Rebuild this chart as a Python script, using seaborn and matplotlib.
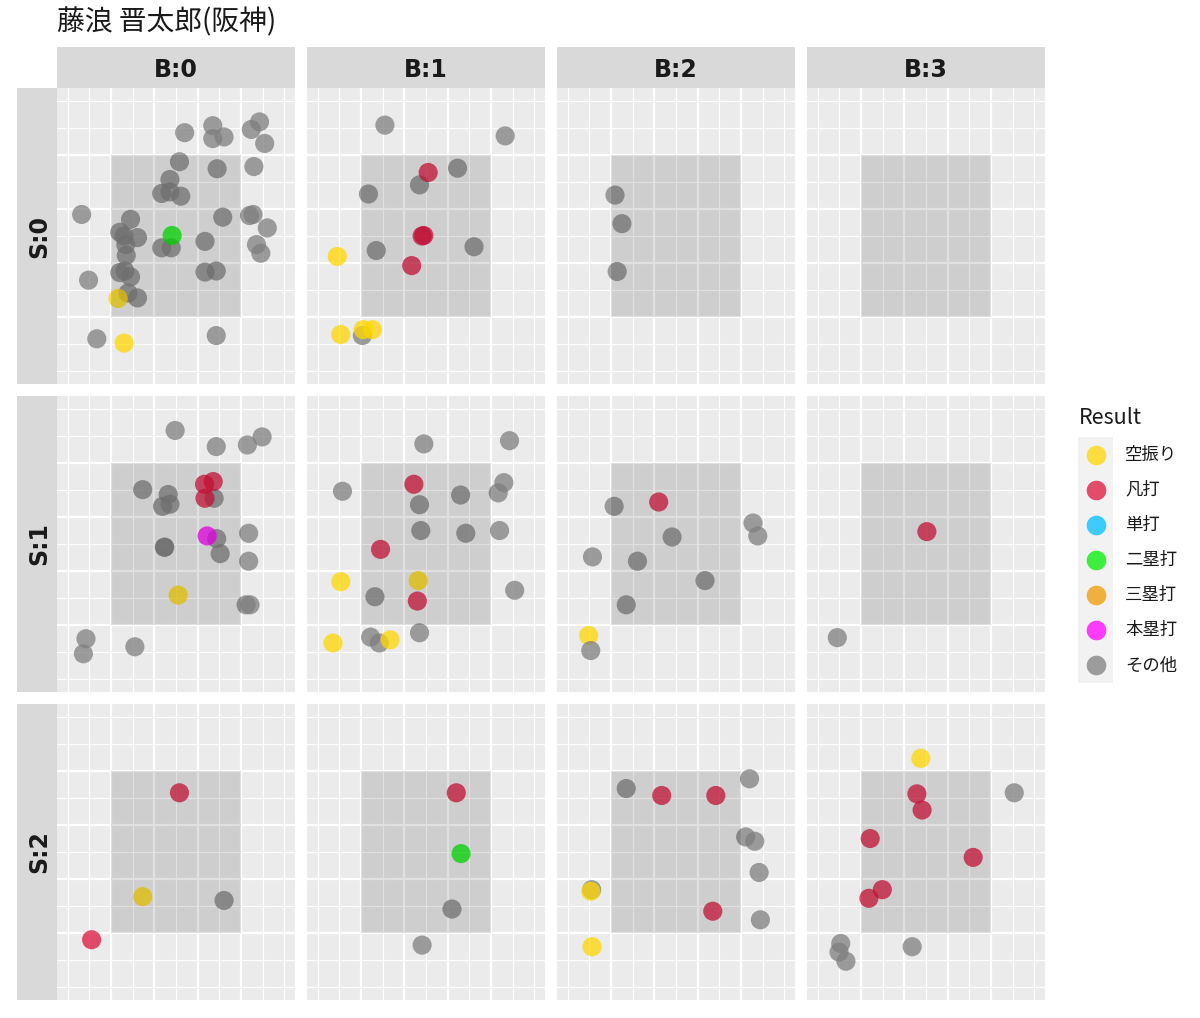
import matplotlib
matplotlib.use("Agg")
import matplotlib.pyplot as plt
from matplotlib.patches import Rectangle
import pandas as pd
import seaborn as sns

plt.rcParams["font.family"] = ["Noto Sans CJK JP", "DejaVu Sans"]

title = "藤浪 晋太郎(阪神)"
ball_labels = ["B:0", "B:1", "B:2", "B:3"]
strike_labels = ["S:0", "S:1", "S:2"]

SW, OUT, H1, H2, H3, HR, OT = "空振り", "凡打", "単打", "二塁打", "三塁打", "本塁打", "その他"
result_order = [SW, OUT, H1, H2, H3, HR, OT]
result_colors = ["#FFD700", "#DC143C", "#00BFFF", "#00EE00", "#EE9A00", "#FF00FF", "#7F7F7F"]

# strike zone in grid units (3x3 cells)
zone_x = (1, 4)
zone_y = (1, 4)

# (x, z, result) per count
s0_b0 = [
    (2.70, 4.42, OT), (3.35, 4.55, OT), (3.35, 4.31, OT), (3.61, 4.34, OT), (4.24, 4.48, OT),
    (4.43, 4.62, OT), (4.55, 4.22, OT), (2.58, 3.88, OT), (3.45, 3.75, OT), (4.30, 3.79, OT),
    (2.36, 3.55, OT), (2.17, 3.29, OT), (2.36, 3.32, OT), (2.61, 3.24, OT), (0.32, 2.90, OT),
    (1.45, 2.81, OT), (3.58, 2.85, OT), (4.20, 2.88, OT), (4.28, 2.90, OT), (4.61, 2.65, OT),
    (1.20, 2.57, OT), (1.30, 2.50, OT), (1.61, 2.47, OT), (1.34, 2.34, OT), (2.17, 2.28, OT),
    (2.39, 2.28, OT), (3.17, 2.40, OT), (4.36, 2.34, OT), (4.46, 2.18, OT), (1.35, 2.14, OT),
    (0.48, 1.68, OT), (1.20, 1.82, OT), (1.32, 1.85, OT), (1.45, 1.74, OT), (3.17, 1.83, OT),
    (3.43, 1.85, OT), (1.39, 1.44, OT), (1.61, 1.35, OT), (0.67, 0.59, OT), (3.43, 0.65, OT),
    (2.41, 2.51, H2), (1.16, 1.34, SW), (1.30, 0.51, SW),
]
s0_b1 = [
    (1.55, 4.56, OT), (4.33, 4.36, OT), (3.23, 3.76, OT), (2.35, 3.45, OT), (1.17, 3.28, OT),
    (1.35, 2.23, OT), (3.61, 2.30, OT), (1.03, 0.65, OT), (2.55, 3.68, OUT), (2.41, 2.50, OUT),
    (2.45, 2.51, OUT), (2.17, 1.95, OUT), (0.45, 2.12, SW), (0.53, 0.67, SW), (1.05, 0.76, SW),
    (1.26, 0.76, SW),
]
s0_b2 = [(1.09, 3.26, OT), (1.25, 2.73, OT), (1.14, 1.84, OT)]
s0_b3 = []

s1_b0 = [
    (2.48, 4.61, OT), (3.43, 4.31, OT), (4.15, 4.34, OT), (4.49, 4.49, OT), (1.73, 3.51, OT),
    (2.32, 3.42, OT), (2.19, 3.20, OT), (2.36, 3.24, OT), (3.38, 3.35, OT), (3.44, 2.60, OT),
    (3.52, 2.32, OT), (4.18, 2.70, OT), (4.18, 2.18, OT), (2.23, 2.44, OT), (2.24, 2.44, OT),
    (4.12, 1.37, OT), (4.21, 1.37, OT), (0.42, 0.74, OT), (0.36, 0.46, OT), (1.55, 0.59, OT),
    (3.16, 3.61, OUT), (3.36, 3.66, OUT), (3.17, 3.35, OUT), (3.22, 2.65, HR), (2.55, 1.55, SW),
]
s1_b1 = [
    (2.45, 4.36, OT), (4.43, 4.42, OT), (0.57, 3.48, OT), (2.35, 3.23, OT), (3.30, 3.41, OT),
    (4.30, 3.64, OT), (4.17, 3.45, OT), (2.38, 2.75, OT), (3.42, 2.70, OT), (4.20, 2.75, OT),
    (1.32, 1.52, OT), (4.55, 1.64, OT), (1.22, 0.77, OT), (1.42, 0.66, OT), (2.35, 0.85, OT),
    (2.22, 3.61, OUT), (1.45, 2.40, OUT), (2.30, 1.44, OUT),
    (0.53, 1.80, SW), (2.32, 1.82, SW), (0.35, 0.66, SW), (1.67, 0.72, SW),
]
s1_b2 = [
    (1.07, 3.20, OT), (2.41, 2.63, OT), (4.28, 2.89, OT), (4.39, 2.65, OT), (0.57, 2.26, OT),
    (1.61, 2.18, OT), (3.17, 1.82, OT), (1.35, 1.37, OT), (2.10, 3.28, OUT), (0.48, 0.80, SW),
    (0.53, 0.52, OT),
]
s1_b3 = [(2.52, 2.73, OUT), (0.45, 0.76, OT)]

s2_b0 = [(2.58, 3.60, OUT), (1.73, 1.67, SW), (3.61, 1.60, OT), (0.55, 0.87, OUT)]
s2_b1 = [(3.20, 3.60, OUT), (3.31, 2.47, H2), (3.10, 1.44, OT), (2.41, 0.77, OT)]
s2_b2 = [
    (1.35, 3.68, OT), (4.20, 3.86, OT), (4.11, 2.78, OT), (4.32, 2.70, OT), (4.42, 2.12, OT),
    (0.55, 1.80, OT), (4.45, 1.24, OT), (2.17, 3.55, OUT), (3.42, 3.55, OUT), (3.35, 1.40, OUT),
    (0.53, 1.77, SW), (0.56, 0.74, SW),
]
s2_b3 = [
    (2.38, 4.24, SW), (2.29, 3.58, OUT), (2.41, 3.28, OUT), (4.54, 3.60, OT), (1.21, 2.75, OUT),
    (3.59, 2.40, OUT), (1.49, 1.80, OUT), (1.18, 1.64, OUT), (0.53, 0.80, OT), (0.49, 0.64, OT),
    (0.65, 0.47, OT), (2.18, 0.74, OT),
]

counts = [
    [s0_b0, s0_b1, s0_b2, s0_b3],
    [s1_b0, s1_b1, s1_b2, s1_b3],
    [s2_b0, s2_b1, s2_b2, s2_b3],
]

rows = []
for s, line in enumerate(counts):
    for b, pitches in enumerate(line):
        for x, z, res in pitches:
            rows.append({"strikes": s, "balls": b, "x": x, "z": z, "result": res})
df = pd.DataFrame(rows)
palette = dict(zip(result_order, result_colors))

# layout in pixels
W, H = 1200, 1018
fig = plt.figure(figsize=(W / 100, H / 100), dpi=100)


def px_axes(x0, y0, w, h):
    return fig.add_axes([x0 / W, 1 - (y0 + h) / H, w / W, h / H])


col_x = [57, 307, 557, 807]
row_y = [88, 396, 704]
panel_w, panel_h = 238, 296
minor = [0, 0.5, 1.5, 2.5, 3.5, 4.5, 5]
strip_bg = "#D9D9D9"

for r in range(3):
    for c in range(4):
        ax = px_axes(col_x[c], row_y[r], panel_w, panel_h)
        ax.set_facecolor("#EBEBEB")
        sub = df[(df.strikes == r) & (df.balls == c)]
        if len(sub):
            sns.scatterplot(data=sub, x="x", y="z", hue="result", hue_order=result_order,
                            palette=palette, s=190, alpha=0.75, linewidth=0,
                            edgecolor="none", legend=False, ax=ax)
        ax.add_patch(Rectangle((zone_x[0], zone_y[0]), zone_x[1] - zone_x[0],
                               zone_y[1] - zone_y[0], facecolor="black", alpha=0.12,
                               edgecolor="none", zorder=5))
        ax.set_xlim(-0.25, 5.25)
        ax.set_ylim(-0.25, 5.25)
        ax.set_xticks([1, 2, 3, 4])
        ax.set_yticks([1, 2, 3, 4])
        ax.set_xticks(minor, minor=True)
        ax.set_yticks(minor, minor=True)
        ax.grid(which="major", color="white", lw=1.6)
        ax.grid(which="minor", color="white", lw=0.8)
        ax.set_axisbelow(True)
        ax.tick_params(which="both", length=0, labelbottom=False, labelleft=False)
        for sp in ax.spines.values():
            sp.set_visible(False)
        ax.set_xlabel("")
        ax.set_ylabel("")

# strips
for c, lab in enumerate(ball_labels):
    sax = px_axes(col_x[c], 47, panel_w, 41)
    sax.set_facecolor(strip_bg)
    sax.set_xticks([]); sax.set_yticks([])
    for sp in sax.spines.values():
        sp.set_visible(False)
    sax.text(0.5, 0.45, lab, ha="center", va="center", fontsize=17,
             fontweight="bold", family="DejaVu Sans", color="#1A1A1A",
             transform=sax.transAxes)

for r, lab in enumerate(strike_labels):
    sax = px_axes(17, row_y[r], 40, panel_h)
    sax.set_facecolor(strip_bg)
    sax.set_xticks([]); sax.set_yticks([])
    for sp in sax.spines.values():
        sp.set_visible(False)
    sax.text(0.55, 0.5, lab, ha="center", va="center", fontsize=17, rotation=90,
             fontweight="bold", family="DejaVu Sans", color="#1A1A1A",
             transform=sax.transAxes)

fig.text(57 / W, 1 - 22 / H, title, fontsize=20, ha="left", va="center", color="#1A1A1A")

# legend
fig.text(1079 / W, 1 - 418 / H, "Result", fontsize=15.5, ha="left", va="center", color="#1A1A1A")
lax = px_axes(1078, 437, 35, 246)
lax.set_facecolor("#F2F2F2")
lax.set_xlim(0, 1)
lax.set_ylim(len(result_order), 0)
lax.set_xticks([]); lax.set_yticks([])
for sp in lax.spines.values():
    sp.set_visible(False)
for i, (lab, col) in enumerate(zip(result_order, result_colors)):
    lax.scatter([0.5], [i + 0.5], s=200, color=col, alpha=0.75, linewidths=0)
    fig.text(1125 / W, 1 - (437 + 35.14 * (i + 0.5)) / H, lab, fontsize=12.5,
             ha="left", va="center", color="#1A1A1A")

fig.savefig("out.png", dpi=100)
